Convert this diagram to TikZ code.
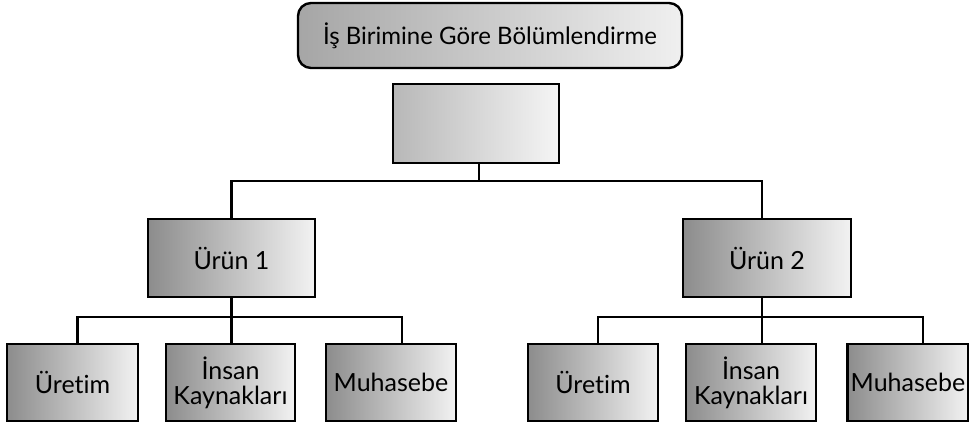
\documentclass[tikz,border=0pt]{standalone}
\usepackage{fontspec}
\setmainfont{Lato}[Ligatures=NoCommon]
\begin{document}
\begin{tikzpicture}[x=1pt,y=-1pt,
  unit/.style={draw, line width=2.4pt, left color=black!45, right color=black!5,
    inner sep=0pt, align=center, minimum height=77pt,
    font=\fontsize{25}{25}\selectfont},
  conn/.style={line width=2.4pt}]
\useasboundingbox (0,0) rectangle (969,426);

% title
\node[draw, line width=2.4pt, rounded corners=13pt, left color=black!35, right color=black!6,
  minimum width=384pt, minimum height=65pt, inner sep=0pt,
  font=\fontsize{24}{26}\selectfont] (title) at (490,35.5) {İş Birimine Göre Bölümlendirme};

% empty head unit
\node[unit, left color=black!28, right color=black!4, minimum width=166pt, minimum height=79pt] (top) at (476,123.5) {};

% product units
\node[unit, minimum width=167pt, minimum height=78pt] (u1) at (231.5,258) {Ürün 1};
\node[unit, minimum width=168pt, minimum height=78pt] (u2) at (767,258) {Ürün 2};

% departments
\node[unit, minimum width=131pt] (a1) at (72.5,382.5) {Üretim};
\node[unit, minimum width=129pt] (b1) at (230.5,382.5) {İnsan\\Kaynakları};
\node[unit, minimum width=130pt] (c1) at (391,382.5) {Muhasebe};
\node[unit, minimum width=130pt] (a2) at (593,382.5) {Üretim};
\node[unit, minimum width=130pt] (b2) at (751,382.5) {İnsan\\Kaynakları};
\node[unit, minimum width=121pt] (c2) at (908,382.5) {Muhasebe};

% bus lines and drop points
\coordinate (bus) at (0,181);
\coordinate (cb) at (0,317);
\coordinate (d0) at ([xshift=3pt]top.south);
\coordinate (d2) at ([xshift=-5pt]u2.north);
\coordinate (s2) at ([xshift=-5pt]u2.south);

\draw[conn] (d0) -- (d0 |- bus);
\draw[conn] (u1.north) -- (u1.north |- bus) -- (d2 |- bus) -- (d2);

\draw[conn] (u1.south) -- (b1.north -| u1.south);
\draw[conn] ([xshift=5pt]a1.north) -- ([xshift=5pt]a1.north |- cb) -- ([xshift=11pt]c1.north |- cb) -- ([xshift=11pt]c1.north);

\draw[conn] (s2) -- (b2.north -| s2);
\draw[conn] ([xshift=5pt]a2.north) -- ([xshift=5pt]a2.north |- cb) -- ([xshift=15pt]c2.north |- cb) -- ([xshift=15pt]c2.north);
\end{tikzpicture}
\end{document}
